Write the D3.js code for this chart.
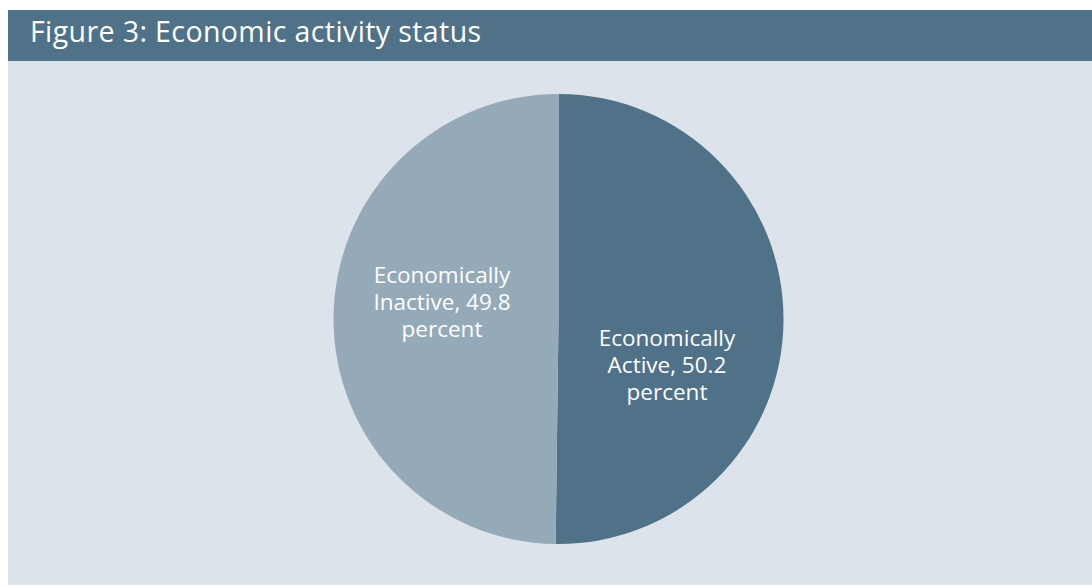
<!DOCTYPE html>
<html>
<head>
<meta charset="utf-8">
<script src="https://cdn.jsdelivr.net/npm/d3@7"></script>
<style>
  html, body { margin: 0; padding: 0; background: #ffffff; }
  svg { display: block; }
</style>
</head>
<body>
<svg id="chart" width="1092" height="586"></svg>
<script>
// Economic activity status shares (percent)
const categories = ["Economically Active", "Economically Inactive"];
const values = [50.2, 49.8];
const labelLines = [
  ["Economically", "Active, 50.2", "percent"],
  ["Economically", "Inactive, 49.8", "percent"]
];
const sliceColors = ["#4f7288", "#95aab8"];
const title = "Figure 3: Economic activity status";

const svg = d3.select("#chart");
const W = 1092, H = 586;
const fontFamily = "'Open Sans', 'Noto Sans', sans-serif";

// panel background
svg.append("rect").attr("x", 8).attr("y", 61).attr("width", W - 8).attr("height", H - 61 - 1)
  .attr("fill", "#dce3ea");

// header bar
svg.append("rect").attr("x", 8).attr("y", 10).attr("width", W - 8).attr("height", 51)
  .attr("fill", "#4f7288");
svg.append("text").attr("x", 30).attr("y", 42)
  .attr("fill", "#ffffff").attr("font-family", fontFamily).attr("font-size", 28.5)
  .attr("letter-spacing", 0.4)
  .text(title);

// pie
const cx = 558.5, cy = 319, r = 225;
const pie = d3.pie().sort(null).value(d => d)(values);
const arc = d3.arc().innerRadius(0).outerRadius(r);
const g = svg.append("g").attr("transform", `translate(${cx},${cy})`);

g.selectAll("path").data(pie).join("path")
  .attr("d", arc)
  .attr("fill", (d, i) => sliceColors[i]);

// labels placed around the centroid of each slice
const labelArc = d3.arc().innerRadius(r * 0.5).outerRadius(r * 0.5);
const lineH = 27;
const labelOffsets = [[-4, 47], [-4, -14]];
const labels = g.selectAll("text.lbl").data(pie).join("text")
  .attr("class", "lbl")
  .attr("text-anchor", "middle")
  .attr("fill", "#ffffff")
  .attr("font-family", fontFamily)
  .attr("font-size", 22.5)
  .attr("transform", (d, i) => {
    const c = labelArc.centroid(d);
    const off = labelOffsets[i];
    return `translate(${c[0] + off[0]},${c[1] + off[1]})`;
  });
labels.each(function(d, i) {
  const t = d3.select(this);
  labelLines[i].forEach((line, k) => {
    t.append("tspan").attr("x", 0).attr("y", (k - 1) * lineH + 6).text(line);
  });
});
</script>
</body>
</html>
